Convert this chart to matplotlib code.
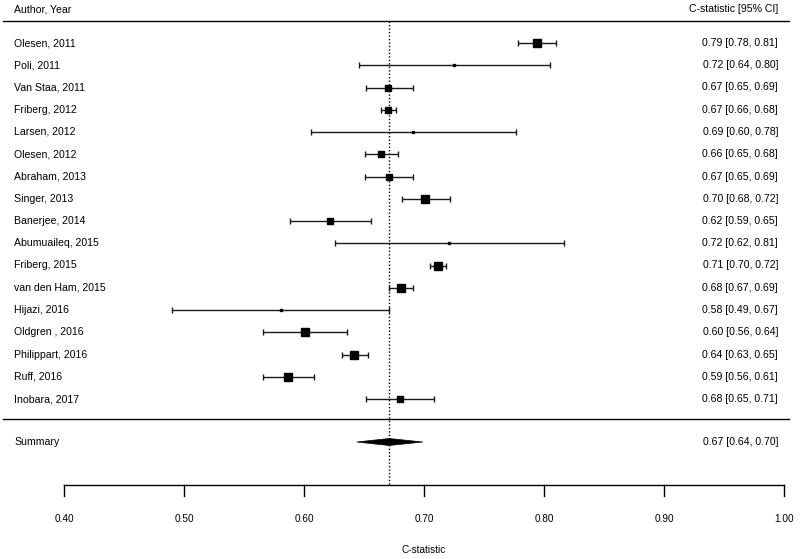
import matplotlib.pyplot as plt

# study data (C-statistic with 95% CI)
studies = ['Olesen, 2011', 'Poli, 2011', 'Van Staa, 2011', 'Friberg, 2012',
           'Larsen, 2012', 'Olesen, 2012', 'Abraham, 2013', 'Singer, 2013',
           'Banerjee, 2014', 'Abumuaileq, 2015', 'Friberg, 2015',
           'van den Ham, 2015', 'Hijazi, 2016', 'Oldgren , 2016',
           'Philippart, 2016', 'Ruff, 2016', 'Inobara, 2017']
est = [0.794, 0.725, 0.670, 0.670, 0.691, 0.664, 0.671, 0.701, 0.622,
       0.721, 0.712, 0.681, 0.581, 0.601, 0.642, 0.587, 0.680]
lo = [0.778, 0.646, 0.652, 0.664, 0.606, 0.651, 0.651, 0.682, 0.588,
      0.626, 0.705, 0.671, 0.490, 0.566, 0.632, 0.566, 0.652]
hi = [0.810, 0.805, 0.691, 0.677, 0.777, 0.678, 0.691, 0.722, 0.656,
      0.817, 0.718, 0.691, 0.671, 0.636, 0.653, 0.608, 0.708]
labels = ['0.79 [0.78, 0.81]', '0.72 [0.64, 0.80]', '0.67 [0.65, 0.69]',
          '0.67 [0.66, 0.68]', '0.69 [0.60, 0.78]', '0.66 [0.65, 0.68]',
          '0.67 [0.65, 0.69]', '0.70 [0.68, 0.72]', '0.62 [0.59, 0.65]',
          '0.72 [0.62, 0.81]', '0.71 [0.70, 0.72]', '0.68 [0.67, 0.69]',
          '0.58 [0.49, 0.67]', '0.60 [0.56, 0.64]', '0.64 [0.63, 0.65]',
          '0.59 [0.56, 0.61]', '0.68 [0.65, 0.71]']
# relative study weights (drives square size)
weights = [7.5, 2.5, 7, 7, 2.5, 7, 7, 7.5, 6.8, 2.5, 7.2, 7.5, 2.5, 7.2, 7.5, 7.2, 7]

summary = (0.671, 0.644, 0.699)
summary_label = '0.67 [0.64, 0.70]'
ticks = [0.40, 0.50, 0.60, 0.70, 0.80, 0.90, 1.00]

FONT = ['Liberation Sans', 'DejaVu Sans']

fig = plt.figure(figsize=(8, 5.59), dpi=100)
ax = fig.add_axes([0, 0, 1, 1])
# 0.40 -> 64 px, 1.00 -> 784 px
ax.set_xlim(0.4 - 64 / 1200, 0.4 + 736 / 1200)
ax.set_ylim(559, 0)
ax.axis('off')

x_left = 0.4 - 50 / 1200
x_right = 0.4 + 714 / 1200
x_line0 = 0.4 - 61 / 1200
x_line1 = 0.4 + 725 / 1200

# headers
ax.text(x_left, 9, 'Author, Year', ha='left', va='center', fontsize=7.6, family=FONT)
ax.text(x_right, 9, 'C-statistic [95% CI]', ha='right', va='center', fontsize=7.6, family=FONT)
ax.plot([x_line0, x_line1], [21, 21], color='black', lw=1.0)
ax.plot([x_line0, x_line1], [419, 419], color='black', lw=1.0)

# reference line at summary estimate
ax.plot([summary[0], summary[0]], [21, 485], color='black', lw=1.0,
        ls=(0, (1, 1.5)), zorder=1)

for i, name in enumerate(studies):
    y = 43 + 22.25 * i
    ax.errorbar(est[i], y, xerr=[[est[i] - lo[i]], [hi[i] - est[i]]], fmt='none',
                ecolor='#1a1a1a', elinewidth=1.0, capsize=2.4, capthick=1.0, zorder=2)
    ax.plot(est[i], y, marker='s', color='black', markersize=weights[i] / 1.39,
            ls='none', zorder=3)
    ax.text(x_left, y, name, ha='left', va='center', fontsize=7.6, family=FONT)
    ax.text(x_right, y, labels[i], ha='right', va='center', fontsize=7.6, family=FONT)

# summary diamond
ys = 442
ax.fill([summary[1], summary[0], summary[2], summary[0]],
        [ys, ys - 3.5, ys, ys + 3.5], color='black', lw=0.5, zorder=3)
ax.text(x_left, ys, 'Summary', ha='left', va='center', fontsize=7.6, family=FONT)
ax.text(x_right, ys, summary_label, ha='right', va='center', fontsize=7.6, family=FONT)

# x axis
ax.plot([ticks[0], ticks[-1]], [485, 485], color='black', lw=1.0)
for t in ticks:
    ax.plot([t, t], [485, 496], color='black', lw=1.0)
    ax.text(t, 519, f'{t:.2f}', ha='center', va='center', fontsize=7.2, family=FONT)
ax.text(0.7, 550, 'C-statistic', ha='center', va='center', fontsize=7.2, family=FONT)

fig.savefig('out.png', dpi=100)
